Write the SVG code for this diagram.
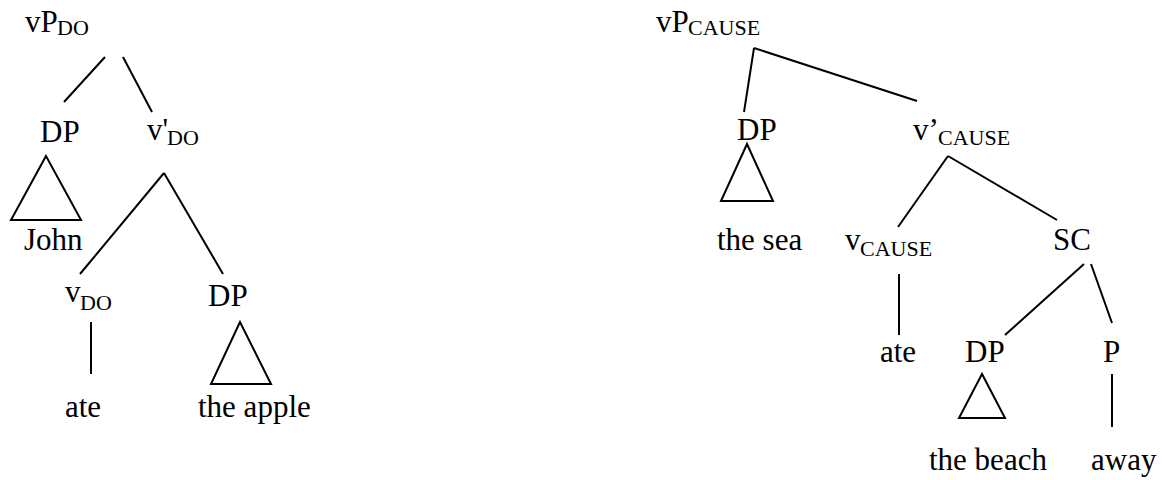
<svg xmlns="http://www.w3.org/2000/svg" width="1162" height="480" viewBox="0 0 1162 480">
<style>
text{font-family:"Liberation Serif","Times New Roman",Tinos,"Nimbus Roman","DejaVu Serif",serif;font-size:31px;fill:#000}
.sub{font-size:22px}
line,polygon{stroke:#000;stroke-width:2;fill:none}
</style>
<rect width="1162" height="480" fill="#fff"/>
<g id="connectors">
<line x1="105" y1="57" x2="64" y2="102"/>
<line x1="123" y1="57" x2="152" y2="112"/>
<polygon points="46,156 11,220 81,220"/>
<line x1="164" y1="173" x2="80" y2="274"/>
<line x1="164" y1="173" x2="223" y2="274"/>
<line x1="91" y1="322" x2="91" y2="374"/>
<polygon points="240,322 211,384 271,384"/>
<line x1="754" y1="48" x2="744" y2="112"/>
<line x1="754" y1="48" x2="917" y2="101"/>
<polygon points="747,144 721,201 773,201"/>
<line x1="948" y1="156" x2="898" y2="227"/>
<line x1="948" y1="156" x2="1057" y2="220"/>
<line x1="899" y1="274" x2="899" y2="335"/>
<line x1="1084" y1="264" x2="1005" y2="335"/>
<line x1="1091" y1="264" x2="1112" y2="323"/>
<polygon points="982,374 959,418 1005,418"/>
<line x1="1112" y1="374" x2="1112" y2="427"/>
</g>
<g id="vPDO"><text x="25" y="32">vP<tspan class="sub" x="57" y="34.5">DO</tspan></text></g>
<g id="DP1"><text x="40" y="142">DP</text></g>
<g id="vbarDO"><text x="147" y="140">v'<tspan class="sub" x="167" y="145">DO</tspan></text></g>
<g id="John"><text x="24" y="250">John</text></g>
<g id="vDO"><text x="65" y="302">v<tspan class="sub" x="80" y="310">DO</tspan></text></g>
<g id="DP2"><text x="208" y="306">DP</text></g>
<g id="ate1"><text x="65" y="417">ate</text></g>
<g id="theapple"><text x="198" y="417">the apple</text></g>
<g id="vPCAUSE"><text x="656" y="32">vP<tspan class="sub" x="688" y="35">CAUSE</tspan></text></g>
<g id="DP3"><text x="737" y="140">DP</text></g>
<g id="vbarCAUSE"><text x="913" y="140">v’<tspan class="sub" x="938" y="145">CAUSE</tspan></text></g>
<g id="thesea"><text x="717" y="250">the sea</text></g>
<g id="vCAUSE"><text x="845" y="250">v<tspan class="sub" x="860" y="256">CAUSE</tspan></text></g>
<g id="SC"><text x="1053" y="250">SC</text></g>
<g id="ate2"><text x="880" y="362">ate</text></g>
<g id="DP4"><text x="965" y="362">DP</text></g>
<g id="P"><text x="1103" y="362">P</text></g>
<g id="thebeach"><text x="929" y="470">the beach</text></g>
<g id="away"><text x="1091" y="470">away</text></g>
</svg>
